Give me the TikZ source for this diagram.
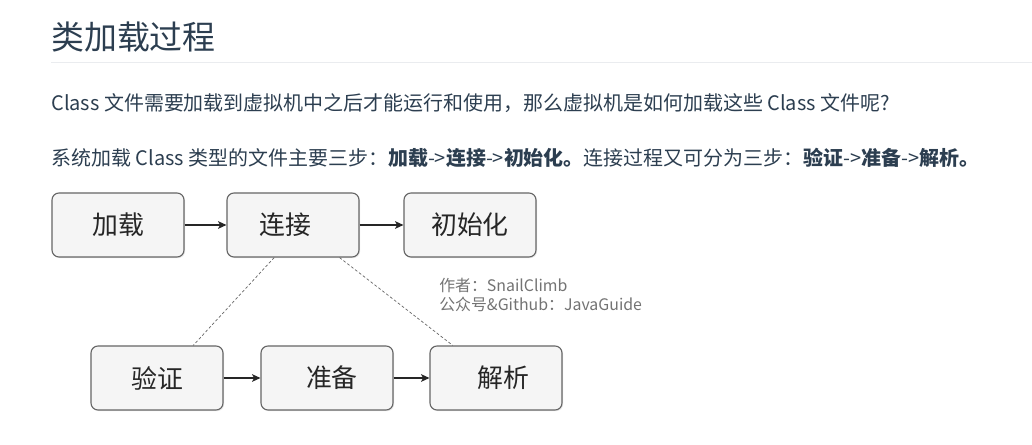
\documentclass[tikz,border=0pt]{standalone}
\usepackage{fontspec}
\setmainfont{Noto Sans CJK SC}
\usetikzlibrary{shadows, arrows.meta}
\definecolor{txt}{HTML}{2C3E50}
\definecolor{boxfill}{HTML}{F5F5F5}
\definecolor{boxline}{HTML}{666666}
\definecolor{rulegray}{HTML}{EAECEF}
\tikzset{
  stage/.style={draw=boxline, fill=boxfill, line width=0.8pt, rounded corners=5pt,
    minimum width=3.3cm, minimum height=1.6cm, inner sep=0pt,
    font=\fontsize{18.4}{20}\selectfont, text=black!85,
    drop shadow={opacity=0.2, shadow xshift=0.8pt, shadow yshift=-0.8pt}},
  flow/.style={-{Stealth[length=6pt, width=5.5pt, inset=1.5pt]}, line width=0.8pt, black!85},
  sublink/.style={line width=0.5pt, black!60, dash pattern=on 2pt off 1.5pt},
}
\begin{document}
\begin{tikzpicture}[x=0.025cm, y=-0.025cm]
\useasboundingbox (0,0) rectangle (1032,445);
% heading and text
\node[anchor=west, inner sep=0, text=txt, font=\fontsize{23.4}{26}\selectfont] (title) at (51,37) {类加载过程};
\draw[rulegray, line width=0.7pt] (51,62) -- (1032,62);
\node[anchor=west, inner sep=0, text=txt, font=\fontsize{14.2}{17}\selectfont] (line1) at (51,103)
  {Class 文件需要加载到虚拟机中之后才能运行和使用，那么虚拟机是如何加载这些 Class 文件呢?};
\node[anchor=west, inner sep=0, text=txt, font=\fontsize{14.2}{17}\selectfont] (line2) at (51,158)
  {系统加载 Class 类型的文件主要三步：\textbf{加载}->\textbf{连接}->\textbf{初始化。}连接过程又可分为三步：\textbf{验证}->\textbf{准备}->\textbf{解析。}};
% main steps
\node[stage] (load) at (118,225) {加载};
\node[stage] (connect) at (293,225) {连接\hspace*{11pt}};
\node[stage] (init) at (470,225) {初始化};
\draw[flow] (load) -- (connect);
\draw[flow] (connect) -- (init);
% sub steps of connect
\node[stage] (verify) at (157,378) {验证};
\node[stage] (prepare) at (327,378) {\hspace*{7pt}准备};
\node[stage] (resolve) at (496,378) {\hspace*{11pt}解析};
\draw[flow] (verify) -- (prepare);
\draw[flow] (prepare) -- (resolve);
\draw[sublink] (connect.240) -- (verify.42);
\draw[sublink] (connect.325) -- (resolve.143);
% credit
\node[anchor=west, inner sep=0, align=left, text=black!55, font=\fontsize{11.3}{14}\selectfont] (credit) at (439,295)
  {作者：SnailClimb\\公众号\&Github：JavaGuide};
\end{tikzpicture}
\end{document}
